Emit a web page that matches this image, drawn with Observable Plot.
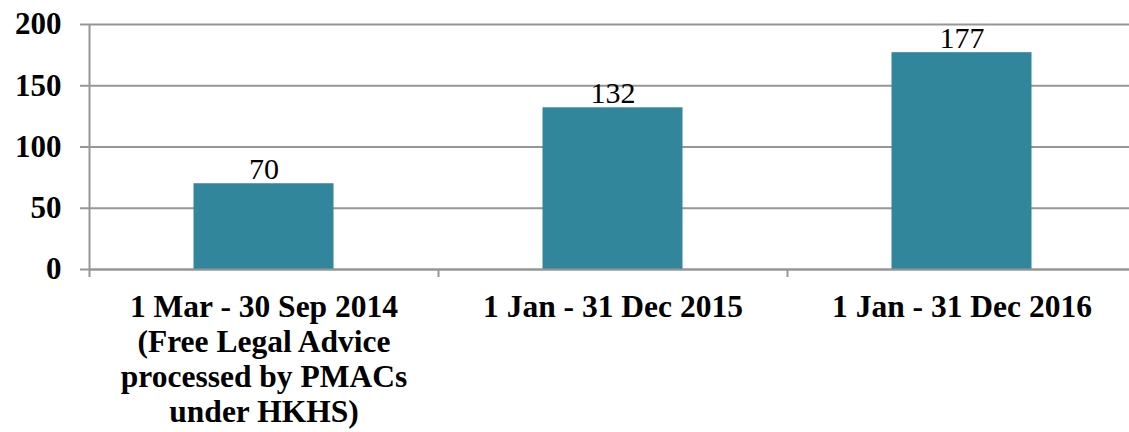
<!DOCTYPE html>
<html><head><meta charset="utf-8">
<script src="https://cdn.jsdelivr.net/npm/d3@7"></script>
<script src="https://cdn.jsdelivr.net/npm/@observablehq/plot@0.6"></script>
<style>body{margin:0;background:#fff}</style>
</head><body><div id="chart"></div>
<script>
const categories = ["1 Mar - 30 Sep 2014", "1 Jan - 31 Dec 2015", "1 Jan - 31 Dec 2016"];
const tickLabels = ["1 Mar - 30 Sep 2014\n(Free Legal Advice\nprocessed by PMACs\nunder HKHS)", "1 Jan - 31 Dec 2015", "1 Jan - 31 Dec 2016"];
const values = [70, 132, 177];
const yTicks = [0, 50, 100, 150, 200];

const data = categories.map((c, i) => ({category: c, value: values[i]}));
const step = 349;
const gridColor = "#969696";
const serif = "Liberation Serif";

const chart = Plot.plot({
  width: 1129, height: 432,
  marginLeft: 89, marginRight: 0, marginTop: 24, marginBottom: 163,
  x: {domain: categories, range: [89, 89 + 3 * step], padding: 0},
  y: {domain: [0, 200]},
  style: {background: "#fff", fontFamily: serif},
  marks: [
    Plot.gridY(yTicks, {stroke: gridColor, strokeWidth: 2, strokeOpacity: 1}),
    Plot.axisY(yTicks, {tickSize: 9, text: null, stroke: gridColor, strokeWidth: 2, label: null}),
    Plot.axisY(yTicks, {tickSize: 0, tickPadding: 28, fontSize: 31, fontWeight: "bold", fontFamily: serif, fill: "#000", label: null}),
    Plot.ruleX([categories[0]], {y1: 0, y2: 200, dx: -step / 2, stroke: gridColor, strokeWidth: 2}),
    Plot.barY(data, {x: "category", y: "value", fill: "#31869C", insetLeft: 104.5, insetRight: 104.5}),
    Plot.ruleY([0], {stroke: gridColor, strokeWidth: 2}),
    Plot.axisX({tickSize: 8, text: null, dx: -step / 2, stroke: gridColor, strokeWidth: 2, label: null}),
    Plot.axisX({tickSize: 0, tickPadding: 22, tickFormat: d => tickLabels[categories.indexOf(d)], fontSize: 31.5, fontWeight: "bold", fontFamily: serif, fill: "#000", lineHeight: 1.12, label: null}),
    Plot.text(data, {x: "category", y: "value", text: d => String(d.value), lineAnchor: "bottom", dy: -5, fontSize: 30, fontFamily: serif, fill: "#000"})
  ]
});
document.getElementById("chart").appendChild(chart);
</script>
</body></html>
